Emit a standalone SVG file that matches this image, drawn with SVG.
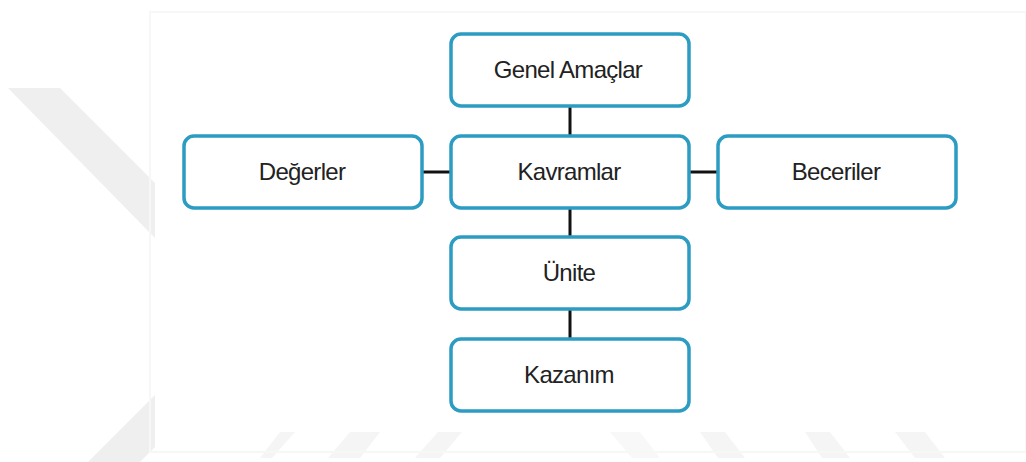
<svg xmlns="http://www.w3.org/2000/svg" width="1026" height="462" viewBox="0 0 1026 462">
<style>
.box{fill:#ffffff;stroke:#2c9cc2;stroke-width:3.5}
.lbl{font-family:"Liberation Sans",Arial,sans-serif;font-size:24px;fill:#222222;text-anchor:middle;letter-spacing:-0.7px}
.con{stroke:#111111;stroke-width:3;fill:none}
.wm{fill:#efefef}
</style>
<rect width="1026" height="462" fill="#ffffff"/>
<g id="watermark">
<polygon class="wm" points="8,88 60,88 155,183 155,238"/>
<polygon class="wm" points="88,462 140,462 155,447 155,395"/>
<polygon class="wm" points="260,458 280,432 295,432 272,458" opacity="0.6"/>
<polygon class="wm" points="328,458 350,432 380,432 360,458" opacity="0.6"/>
<polygon class="wm" points="415,458 438,432 462,432 440,458" opacity="0.6"/>
<polygon class="wm" points="610,432 640,432 660,458 632,458" opacity="0.45"/>
<polygon class="wm" points="700,432 725,432 745,458 718,458" opacity="0.6"/>
<polygon class="wm" points="805,432 830,432 850,458 822,458" opacity="0.6"/>
<polygon class="wm" points="895,432 925,432 945,458 915,458" opacity="0.6"/>
<rect x="150" y="12" width="876" height="440" fill="none" stroke="#f7f7f7" stroke-width="2"/>
</g>
<g id="connectors">
<line class="con" x1="570" y1="107" x2="570" y2="136"/>
<line class="con" x1="423" y1="172" x2="451" y2="172"/>
<line class="con" x1="690" y1="172" x2="717" y2="172"/>
<line class="con" x1="570" y1="208" x2="570" y2="237"/>
<line class="con" x1="570" y1="310" x2="570" y2="339"/>
</g>
<g id="genel-amaclar">
<rect class="box" x="451" y="34" width="238" height="72" rx="10"/>
<text class="lbl" x="568" y="78">Genel Amaçlar</text>
</g>
<g id="degerler">
<rect class="box" x="184" y="136" width="238" height="72" rx="10"/>
<text class="lbl" x="302" y="180">Değerler</text>
</g>
<g id="kavramlar">
<rect class="box" x="451" y="136" width="238" height="72" rx="10"/>
<text class="lbl" x="569" y="180">Kavramlar</text>
</g>
<g id="beceriler">
<rect class="box" x="718" y="136" width="238" height="72" rx="10"/>
<text class="lbl" x="836" y="180">Beceriler</text>
</g>
<g id="unite">
<rect class="box" x="451" y="237" width="238" height="72" rx="10"/>
<text class="lbl" x="569" y="281">Ünite</text>
</g>
<g id="kazanim">
<rect class="box" x="451" y="339" width="238" height="72" rx="10"/>
<text class="lbl" x="569" y="383">Kazanım</text>
</g>
</svg>
